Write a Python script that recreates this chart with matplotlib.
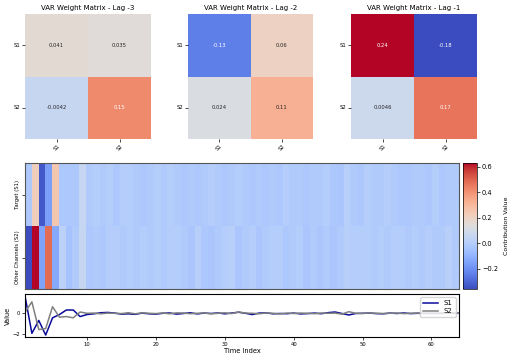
import numpy as np
import matplotlib
matplotlib.use("Agg")
import matplotlib.pyplot as plt
import seaborn as sns

channels = ["S1", "S2"]
lag_titles = ["VAR Weight Matrix - Lag -3", "VAR Weight Matrix - Lag -2", "VAR Weight Matrix - Lag -1"]
W_lag3 = [[0.041, 0.035], [-0.0042, 0.15]]
W_lag2 = [[-0.13, 0.06], [0.024, 0.11]]
W_lag1 = [[0.24, -0.18], [0.0046, 0.17]]

row_labels = ["Target (S1)", "Other Channels (S2)"]
contrib_s1 = [-0.02, 0.22, -0.33, -0.16, 0.25, -0.02, -0.02, -0.02, 0.05, -0.01,
              0.00, -0.01, 0.00, -0.02, 0.00, 0.00, -0.01, -0.02, -0.01, 0.00,
              -0.01, 0.00, -0.01, -0.02, -0.01, -0.02, -0.01, 0.00, -0.01, -0.02,
              -0.01, 0.00, -0.01, -0.02, -0.01, -0.02, -0.01, -0.02, 0.00, -0.01,
              -0.01, -0.02, -0.01, -0.01, 0.00, -0.02, -0.03, 0.01, -0.01, -0.02,
              0.00, -0.01, -0.01, 0.00, -0.01, -0.02, -0.02, -0.01, -0.01, -0.02,
              0.00, -0.02, -0.01, -0.01]
contrib_s2 = [-0.36, 0.63, -0.15, 0.48, -0.13, 0.02, -0.04, -0.01, 0.06, -0.02,
              -0.01, -0.02, 0.00, 0.00, -0.01, 0.00, -0.01, 0.00, -0.01, 0.00,
              -0.01, 0.00, 0.00, -0.01, -0.03, 0.01, -0.02, -0.03, -0.01, 0.00,
              0.01, -0.03, -0.01, 0.00, -0.03, -0.01, 0.00, 0.00, -0.02, -0.01,
              0.00, -0.03, -0.01, -0.03, -0.01, -0.03, -0.01, 0.01, 0.00, 0.00,
              0.00, -0.01, 0.00, -0.01, 0.00, 0.00, -0.01, 0.00, -0.01, 0.00,
              -0.01, -0.01, 0.01, -0.01]

time_index = list(range(1, 65))
series_s1 = [1.64, -1.90, -0.68, -2.06, -0.43, -0.12, 0.31, 0.31, -0.31, -0.12,
             -0.05, 0.05, 0.08, 0.02, -0.08, -0.05, -0.10, 0.02, -0.05, -0.08,
             0.00, 0.03, -0.08, -0.02, 0.05, -0.06, 0.02, -0.02, 0.03, -0.05,
             0.02, 0.10, 0.00, -0.12, 0.02, 0.04, -0.05, -0.02, -0.04, 0.02,
             -0.06, -0.03, 0.02, -0.04, 0.06, 0.12, -0.02, -0.16, -0.02, 0.00,
             0.02, -0.03, -0.05, 0.02, -0.02, 0.03, -0.03, 0.00, -0.02, 0.00,
             -0.02, 0.00, 0.00, 0.00]
series_s2 = [0.10, 1.08, -1.54, -1.45, 0.62, -0.37, -0.31, -0.43, 0.12, 0.00,
             0.02, -0.05, 0.02, 0.00, -0.03, 0.05, -0.05, 0.04, 0.00, -0.03,
             0.03, -0.05, 0.04, 0.02, -0.04, 0.00, 0.03, -0.05, 0.00, 0.04,
             -0.03, 0.12, 0.02, 0.00, -0.05, 0.03, 0.00, -0.06, 0.02, -0.02,
             0.02, 0.00, -0.04, 0.02, 0.00, 0.02, -0.08, 0.15, 0.00, -0.02,
             0.03, 0.00, -0.02, 0.00, 0.02, -0.03, 0.00, 0.02, 0.00, -0.02,
             0.00, 0.00, 0.02, 0.00]

mats = [np.array(W_lag3), np.array(W_lag2), np.array(W_lag1)]
allw = np.concatenate([m.ravel() for m in mats])
wmin, wmax = allw.min(), allw.max()

fig = plt.figure(figsize=(5.12, 3.6), dpi=100)

W, H = 512.0, 360.0
def box(x0, x1, y0, y1):
    return [x0 / W, 1 - y1 / H, (x1 - x0) / W, (y1 - y0) / H]

top_x = [(25, 151), (188, 313), (351, 477)]
for (x0, x1), m, t in zip(top_x, mats, lag_titles):
    ax = fig.add_axes(box(x0, x1, 14, 139))
    sns.heatmap(m, ax=ax, annot=True, fmt=".2g", cmap="coolwarm", vmin=wmin, vmax=wmax,
                cbar=False, xticklabels=channels, yticklabels=channels,
                annot_kws={"fontsize": 3.8})
    ax.set_title(t, fontsize=5, pad=3)
    ax.tick_params(axis="both", labelsize=3.8, length=2, width=0.5, pad=1.5)
    ax.set_xticklabels(channels, rotation=45)
    ax.set_yticklabels(channels, rotation=0)

contrib = np.array([contrib_s1, contrib_s2])
axh = fig.add_axes(box(25, 459, 163, 289))
im = axh.imshow(contrib, aspect="auto", cmap="coolwarm", interpolation="nearest")
axh.set_xticks([])
axh.set_yticks([0, 1])
axh.set_yticklabels(row_labels, rotation=90, va="center", fontsize=3.8)
axh.tick_params(axis="y", length=2, width=0.5, pad=1.5)
for s in axh.spines.values():
    s.set_linewidth(0.8)
    s.set_color("#555555")

cax = fig.add_axes(box(463, 477, 163, 289))
cb = fig.colorbar(im, cax=cax)
cb.set_label("Contribution Value", fontsize=4.5)
cb.ax.tick_params(labelsize=4.8, length=2, width=0.5, pad=1.5)
cb.outline.set_linewidth(0.5)

axl = fig.add_axes(box(25, 459, 294, 337))
axl.plot(time_index, series_s1, color="#0a0a9a", lw=1.1, label="S1")
axl.plot(time_index, series_s2, color="gray", lw=1.1, label="S2")
axl.set_xlim(1, 64)
axl.set_xticks([10, 20, 30, 40, 50, 60])
axl.set_yticks([-2, 0])
axl.tick_params(labelsize=3.8, length=2, width=0.5, pad=1.5)
axl.set_xlabel("Time Index", fontsize=4.8, labelpad=1)
axl.set_ylabel("Value", fontsize=4.8, labelpad=1)
axl.legend(loc="upper right", fontsize=5, handlelength=2.2, borderpad=0.4,
           labelspacing=0.3, framealpha=0.8)
for s in axl.spines.values():
    s.set_linewidth(0.8)

fig.savefig("out.png", dpi=100)
